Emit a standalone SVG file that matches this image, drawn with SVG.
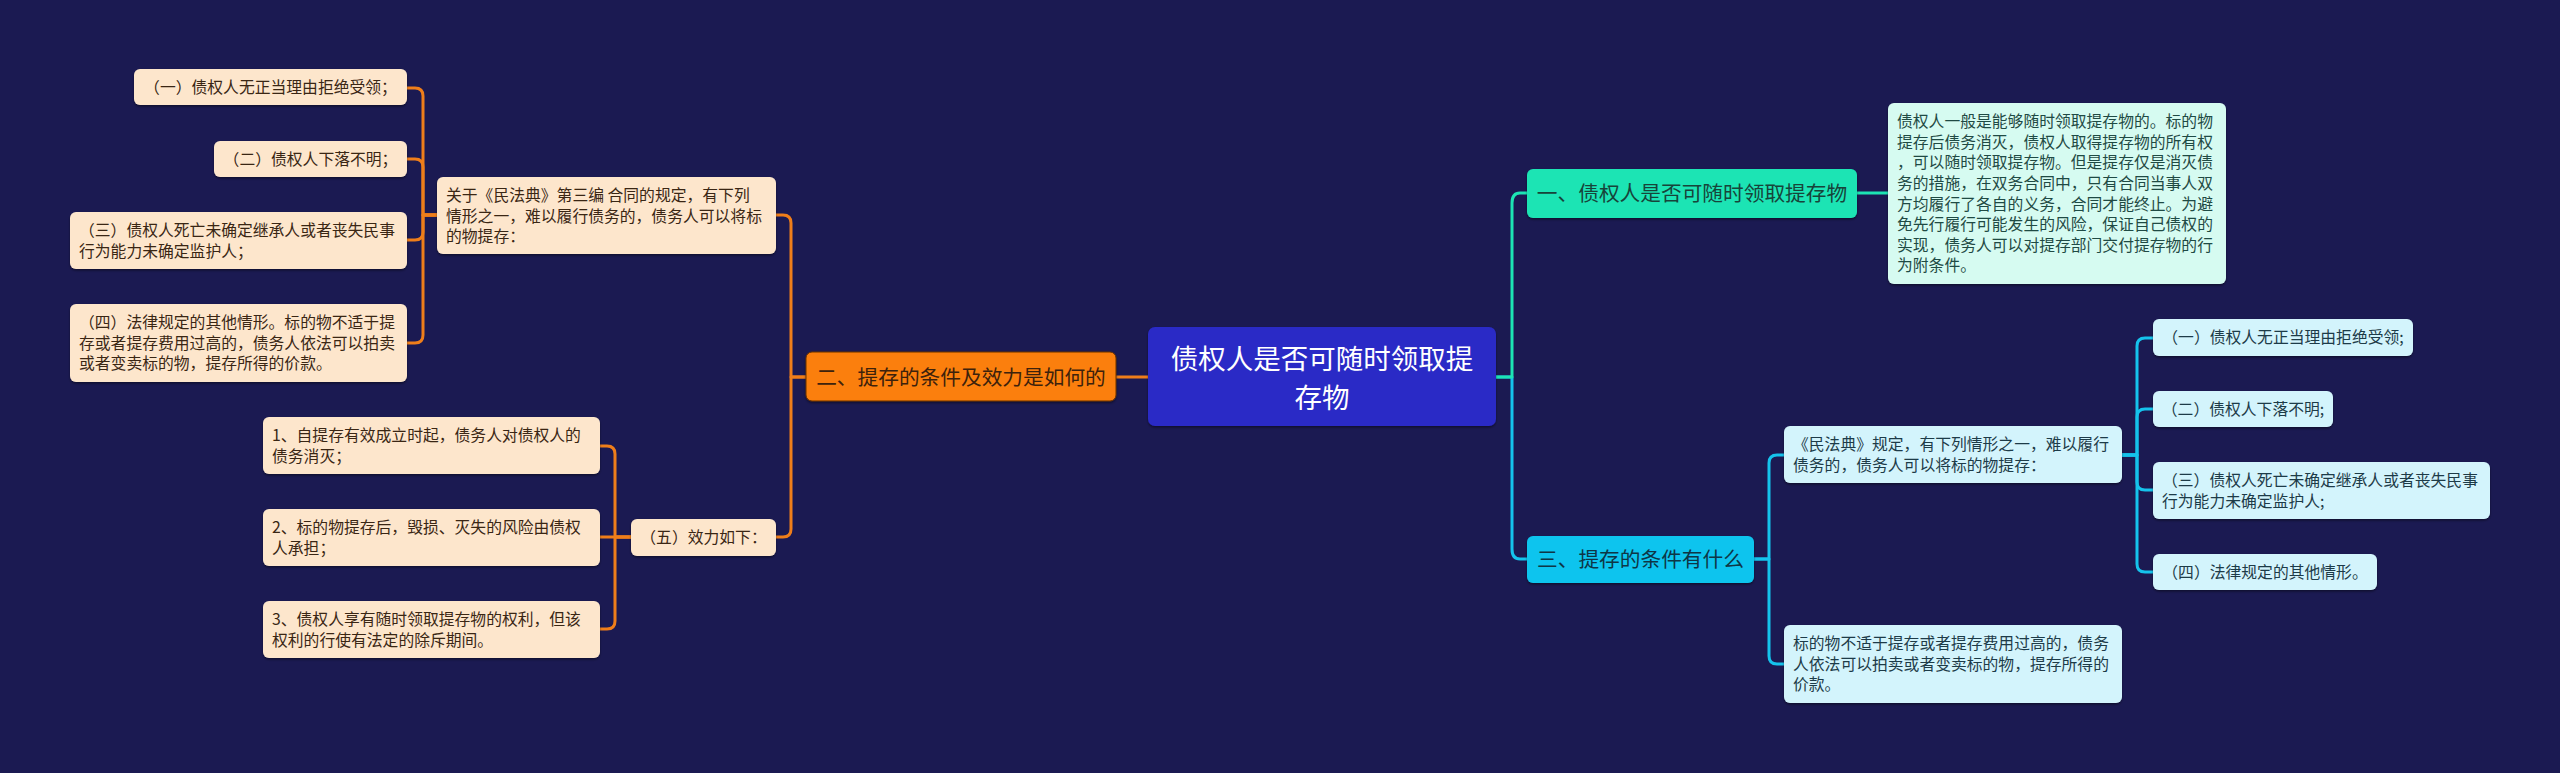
<svg xmlns="http://www.w3.org/2000/svg" width="2560" height="773" viewBox="0 0 2560 773">
<defs>
<style>
text{font-family:"Noto Sans CJK SC","Noto Sans",sans-serif;}
.s{font-size:15.8px;}
.m{font-size:20.7px;}
.root{font-size:27.5px;fill:#ffffff;}
.pe{fill:#fde6cc;}
.pt{fill:#3a2614;}
.mi{fill:#d6fbf1;}
.mt{fill:#1f4a44;}
.lc{fill:#d3f4fc;}
.ct{fill:#1d3b48;}
.co{fill:none;stroke-width:3;stroke-linecap:round;stroke-linejoin:round;}
.or{stroke:#ef7e1a;}
.te{stroke:#1de4b4;}
.cy{stroke:#15c3ec;}
</style>
<filter id="sh" x="-5%" y="-10%" width="110%" height="130%">
<feDropShadow dx="0" dy="1.5" stdDeviation="1" flood-color="#000000" flood-opacity="0.45"/>
</filter>
</defs>
<rect x="0" y="0" width="2560" height="773" fill="#1b1a52"/>

<g id="connectors">
<path class="co or" d="M1148,377 H1116"/>
<path class="co or" d="M806,377 H791 V223 Q791,215 783,215 H776"/>
<path class="co or" d="M806,377 H791 V529 Q791,537 783,537 H776"/>
<path class="co or" d="M437,215 H423 V96 Q423,88 415,88 H407"/>
<path class="co or" d="M437,215 H423 V167 Q423,159 415,159 H407"/>
<path class="co or" d="M437,215 H423 V232 Q423,240 415,240 H407"/>
<path class="co or" d="M437,215 H423 V335 Q423,343 415,343 H407"/>
<path class="co or" d="M631,537 H615 V454 Q615,446 607,446 H600"/>
<path class="co or" d="M631,537 H600"/>
<path class="co or" d="M631,537 H615 V621 Q615,629 607,629 H600"/>
<path class="co cy" d="M1496,377 H1512 V549 Q1512,559 1520,559 H1527"/>
<path class="co te" d="M1496,377 H1512 V203 Q1512,193 1520,193 H1527"/>
<path class="co te" d="M1857,193 H1888"/>
<path class="co cy" d="M1754,559 H1769 V463 Q1769,455 1777,455 H1784"/>
<path class="co cy" d="M1754,559 H1769 V656 Q1769,664 1777,664 H1784"/>
<path class="co cy" d="M2122,455 H2137 V346 Q2137,338 2145,338 H2153"/>
<path class="co cy" d="M2122,455 H2137 V417 Q2137,409 2145,409 H2153"/>
<path class="co cy" d="M2122,455 H2137 V482 Q2137,490 2145,490 H2153"/>
<path class="co cy" d="M2122,455 H2137 V564 Q2137,572 2145,572 H2153"/>
</g>

<g id="root">
<rect x="1148" y="327" width="348" height="99" rx="7" fill="#2a2ac6" filter="url(#sh)"/>
<text class="root" x="1322" y="369" text-anchor="middle">债权人是否可随时领取提</text>
<text class="root" x="1322" y="408" text-anchor="middle">存物</text>
</g>

<g id="n-er">
<rect x="806" y="352" width="310" height="49" rx="6" fill="#fb7f0b" stroke="#6a3200" stroke-width="1" filter="url(#sh)"/>
<text class="m" x="961" y="384.5" text-anchor="middle" fill="#3d220c">二、提存的条件及效力是如何的</text>
</g>

<g id="n-p1">
<rect class="pe" x="437" y="177" width="339" height="77" rx="6" filter="url(#sh)"/>
<text class="s pt" x="446" y="201.2">关于《民法典》第三编 合同的规定，有下列</text>
<text class="s pt" x="446" y="221.8">情形之一，难以履行债务的，债务人可以将标</text>
<text class="s pt" x="446" y="242.4">的物提存：</text>
</g>

<g id="n-l1">
<rect class="pe" x="134" y="69" width="273" height="36" rx="6" filter="url(#sh)"/>
<text class="s pt" x="270.5" y="92.7" text-anchor="middle">（一）债权人无正当理由拒绝受领；</text>
</g>
<g id="n-l2">
<rect class="pe" x="214" y="141" width="193" height="36" rx="6" filter="url(#sh)"/>
<text class="s pt" x="310.5" y="164.7" text-anchor="middle">（二）债权人下落不明；</text>
</g>
<g id="n-l3">
<rect class="pe" x="70" y="212" width="337" height="57" rx="6" filter="url(#sh)"/>
<text class="s pt" x="79" y="236.2">（三）债权人死亡未确定继承人或者丧失民事</text>
<text class="s pt" x="79" y="256.8">行为能力未确定监护人；</text>
</g>
<g id="n-l4">
<rect class="pe" x="70" y="304" width="337" height="78" rx="6" filter="url(#sh)"/>
<text class="s pt" x="79" y="328.1">（四）法律规定的其他情形。标的物不适于提</text>
<text class="s pt" x="79" y="348.7">存或者提存费用过高的，债务人依法可以拍卖</text>
<text class="s pt" x="79" y="369.3">或者变卖标的物，提存所得的价款。</text>
</g>

<g id="n-wu">
<rect class="pe" x="631" y="519" width="145" height="37" rx="6" filter="url(#sh)"/>
<text class="s pt" x="703.5" y="543.2" text-anchor="middle">（五）效力如下：</text>
</g>
<g id="n-e1">
<rect class="pe" x="263" y="417" width="337" height="57" rx="6" filter="url(#sh)"/>
<text class="s pt" x="272" y="440.9">1、自提存有效成立时起，债务人对债权人的</text>
<text class="s pt" x="272" y="461.5">债务消灭；</text>
</g>
<g id="n-e2">
<rect class="pe" x="263" y="509" width="337" height="57" rx="6" filter="url(#sh)"/>
<text class="s pt" x="272" y="532.9">2、标的物提存后，毁损、灭失的风险由债权</text>
<text class="s pt" x="272" y="553.5">人承担；</text>
</g>
<g id="n-e3">
<rect class="pe" x="263" y="601" width="337" height="57" rx="6" filter="url(#sh)"/>
<text class="s pt" x="272" y="624.9">3、债权人享有随时领取提存物的权利，但该</text>
<text class="s pt" x="272" y="645.5">权利的行使有法定的除斥期间。</text>
</g>

<g id="n-yi">
<rect x="1527" y="169" width="330" height="49" rx="6" fill="#1de4b4" filter="url(#sh)"/>
<text class="m" x="1692" y="201" text-anchor="middle" fill="#17443a">一、债权人是否可随时领取提存物</text>
</g>
<g id="n-mint">
<rect class="mi" x="1888" y="103" width="338" height="181" rx="6" filter="url(#sh)"/>
<text class="s mt" x="1897" y="127.1">债权人一般是能够随时领取提存物的。标的物</text>
<text class="s mt" x="1897" y="147.7">提存后债务消灭，债权人取得提存物的所有权</text>
<text class="s mt" x="1897" y="168.3">，可以随时领取提存物。但是提存仅是消灭债</text>
<text class="s mt" x="1897" y="188.9">务的措施，在双务合同中，只有合同当事人双</text>
<text class="s mt" x="1897" y="209.5">方均履行了各自的义务，合同才能终止。为避</text>
<text class="s mt" x="1897" y="230.1">免先行履行可能发生的风险，保证自己债权的</text>
<text class="s mt" x="1897" y="250.7">实现，债务人可以对提存部门交付提存物的行</text>
<text class="s mt" x="1897" y="271.3">为附条件。</text>
</g>

<g id="n-san">
<rect x="1527" y="536" width="227" height="47" rx="6" fill="#10c4ee" filter="url(#sh)"/>
<text class="m" x="1640.5" y="567" text-anchor="middle" fill="#0e3646">三、提存的条件有什么</text>
</g>
<g id="n-c1">
<rect class="lc" x="1784" y="426" width="338" height="57" rx="6" filter="url(#sh)"/>
<text class="s ct" x="1793" y="449.9">《民法典》规定，有下列情形之一，难以履行</text>
<text class="s ct" x="1793" y="470.5">债务的，债务人可以将标的物提存：</text>
</g>
<g id="n-c2">
<rect class="lc" x="1784" y="625" width="338" height="78" rx="6" filter="url(#sh)"/>
<text class="s ct" x="1793" y="649.1">标的物不适于提存或者提存费用过高的，债务</text>
<text class="s ct" x="1793" y="669.7">人依法可以拍卖或者变卖标的物，提存所得的</text>
<text class="s ct" x="1793" y="690.3">价款。</text>
</g>
<g id="n-r1">
<rect class="lc" x="2153" y="319" width="260" height="37" rx="6" filter="url(#sh)"/>
<text class="s ct" x="2283" y="343.2" text-anchor="middle">（一）债权人无正当理由拒绝受领;</text>
</g>
<g id="n-r2">
<rect class="lc" x="2153" y="391" width="180" height="36" rx="6" filter="url(#sh)"/>
<text class="s ct" x="2243" y="414.7" text-anchor="middle">（二）债权人下落不明;</text>
</g>
<g id="n-r3">
<rect class="lc" x="2153" y="462" width="337" height="57" rx="6" filter="url(#sh)"/>
<text class="s ct" x="2162" y="486.2">（三）债权人死亡未确定继承人或者丧失民事</text>
<text class="s ct" x="2162" y="506.8">行为能力未确定监护人;</text>
</g>
<g id="n-r4">
<rect class="lc" x="2153" y="554" width="224" height="36" rx="6" filter="url(#sh)"/>
<text class="s ct" x="2265" y="577.7" text-anchor="middle">（四）法律规定的其他情形。</text>
</g>
</svg>
